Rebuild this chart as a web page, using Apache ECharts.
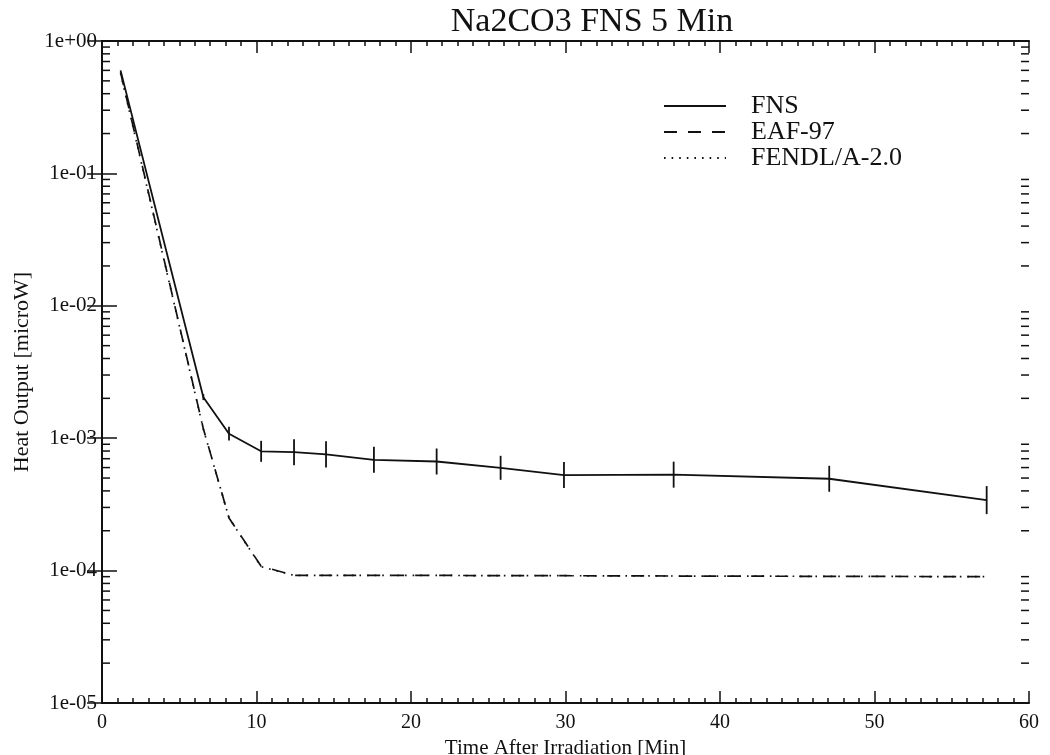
<!DOCTYPE html>
<html>
<head>
<meta charset="utf-8">
<script src="https://cdn.jsdelivr.net/npm/echarts@6/dist/echarts.min.js"></script>
<style>
  html, body { margin: 0; padding: 0; background: #fff; }
  #chart { width: 1050px; height: 755px; }
</style>
</head>
<body>
<div id="chart"></div>
<script>
// Decay heat after a 5 minute FNS irradiation of Na2CO3
const times = [1.2, 6.56, 8.22, 10.3, 12.43, 14.5, 17.6, 21.66, 25.8, 29.9, 37.0, 47.07, 57.26];

// Measured heat output (microW) with the lower / upper ends of its error bar
const fns = [0.6, 2.04e-3, 1.08e-3, 7.96e-4, 7.84e-4, 7.55e-4, 6.87e-4, 6.67e-4, 5.97e-4, 5.27e-4, 5.30e-4, 4.94e-4, 3.41e-4];
const fnsLow = [null, 1.94e-3, 9.6e-4, 6.63e-4, 6.25e-4, 6.02e-4, 5.48e-4, 5.32e-4, 4.85e-4, 4.20e-4, 4.23e-4, 3.94e-4, 2.67e-4];
const fnsHigh = [null, 2.15e-3, 1.22e-3, 9.55e-4, 9.83e-4, 9.47e-4, 8.62e-4, 8.36e-4, 7.36e-4, 6.61e-4, 6.65e-4, 6.19e-4, 4.35e-4];

// Calculated heat output with two nuclear data libraries
const eaf97 = [0.58, 1.18e-3, 2.5e-4, 1.08e-4, 9.2e-5, 9.2e-5, 9.2e-5, 9.2e-5, 9.15e-5, 9.15e-5, 9.1e-5, 9.05e-5, 9.0e-5];
const fendl = [0.57, 1.17e-3, 2.5e-4, 1.07e-4, 9.2e-5, 9.2e-5, 9.2e-5, 9.2e-5, 9.15e-5, 9.15e-5, 9.1e-5, 9.05e-5, 9.0e-5];

// Axis ranges and log minor tick positions
const xRange = [0, 60];
const xStep = 10;
const yRange = [1e-5, 1];
const yDecades = [1e-5, 1e-4, 1e-3, 1e-2, 1e-1];
const yMantissas = [2, 3, 4, 5, 6, 7, 8, 9];

const FONT = '"Liberation Serif", "Times New Roman", serif';

const pairs = (ys) => times.map((t, i) => [t, ys[i]]);
const errData = times.map((t, i) => [t, fnsLow[i], fnsHigh[i]]).filter(d => d[1] != null);
const minorY = [];
yDecades.forEach(d => yMantissas.forEach(m => minorY.push([xRange[0], d * m])));

function expLabel(v) {
  const e = Math.round(Math.log10(v));
  return '1e' + (e < 0 ? '-' : '+') + String(Math.abs(e)).padStart(2, '0');
}

const chart = echarts.init(document.getElementById('chart'), null, { renderer: 'canvas' });

const xCommon = {
  type: 'value', min: xRange[0], max: xRange[1], interval: xStep,
  axisLine: { show: true, lineStyle: { color: '#111', width: 2 } },
  axisTick: { show: true, inside: true, length: 12, lineStyle: { color: '#111', width: 1.5 } },
  minorTick: { show: true, splitNumber: 10, length: 5, lineStyle: { color: '#111', width: 1.5 } },
  splitLine: { show: false }
};
const yCommon = {
  type: 'log', logBase: 10, min: yRange[0], max: yRange[1],
  axisLine: { show: true, lineStyle: { color: '#111', width: 2 } },
  axisTick: { show: true, inside: true, length: 15, lineStyle: { color: '#111', width: 1.5 } },
  minorTick: { show: false },
  splitLine: { show: false }
};

const legendLine = { color: '#111', width: 1.7 };

chart.setOption({
  backgroundColor: '#fff',
  animation: false,
  title: {
    text: 'Na2CO3 FNS 5 Min',
    left: 587, top: 0, textAlign: 'center',
    textStyle: { fontFamily: FONT, fontSize: 34, fontWeight: 'normal', color: '#111' }
  },
  grid: { left: 102, right: 21, top: 41, bottom: 52, containLabel: false, outerBoundsMode: 'none' },
  legend: {
    orient: 'vertical', left: 658, top: 88,
    itemWidth: 62, itemHeight: 14, itemGap: 0,
    data: ['FNS', 'EAF-97', 'FENDL/A-2.0'],
    itemStyle: { color: 'rgba(0,0,0,0)', borderColor: 'rgba(0,0,0,0)', borderWidth: 0, opacity: 0 },
    textStyle: { fontFamily: FONT, fontSize: 26, color: '#111', padding: [0, 0, 0, 20] },
    selectedMode: false
  },
  xAxis: [
    Object.assign({}, xCommon, {
      position: 'bottom',
      name: 'Time After Irradiation [Min]', nameLocation: 'middle', nameGap: 27,
      nameTextStyle: { fontFamily: FONT, fontSize: 21, color: '#111' },
      axisLabel: { fontFamily: FONT, fontSize: 20, color: '#111', margin: 10 }
    }),
    Object.assign({}, xCommon, { position: 'top', axisLabel: { show: false } })
  ],
  yAxis: [
    Object.assign({}, yCommon, {
      position: 'left',
      name: 'Heat Output [microW]', nameLocation: 'middle', nameGap: 68,
      nameTextStyle: { fontFamily: FONT, fontSize: 22, color: '#111' },
      axisLabel: { fontFamily: FONT, fontSize: 21, color: '#111', margin: 5, formatter: expLabel }
    }),
    Object.assign({}, yCommon, { position: 'right', axisLabel: { show: false } })
  ],
  series: [
    {
      name: 'FNS', type: 'line', data: pairs(fns),
      symbol: 'none', showSymbol: false, z: 5,
      lineStyle: Object.assign({}, legendLine, { width: 1.8, type: 'solid' }),
      itemStyle: { color: '#111' }
    },
    {
      name: 'EAF-97', type: 'line', data: pairs(eaf97),
      symbol: 'none', showSymbol: false, z: 4,
      lineStyle: Object.assign({}, legendLine, { type: [13, 11] }),
      itemStyle: { color: '#111' }
    },
    {
      name: 'FENDL/A-2.0', type: 'line', data: pairs(fendl),
      symbol: 'none', showSymbol: false, z: 4,
      lineStyle: Object.assign({}, legendLine, { type: [1.6, 6] }),
      itemStyle: { color: '#111' }
    },
    {
      // vertical error bars on the FNS measurement
      name: 'FNS error', type: 'custom', data: errData, z: 6,
      renderItem: (params, api) => {
        const lo = api.coord([api.value(0), api.value(1)]);
        const hi = api.coord([api.value(0), api.value(2)]);
        return {
          type: 'line',
          shape: { x1: lo[0], y1: lo[1], x2: hi[0], y2: hi[1] },
          style: { stroke: '#111', lineWidth: 1.8 }
        };
      }
    },
    {
      // log minor ticks on the left and right frame
      name: 'minor ticks', type: 'custom', data: minorY, z: 3, silent: true, clip: false,
      renderItem: (params, api) => {
        const l = api.coord([xRange[0], api.value(1)]);
        const r = api.coord([xRange[1], api.value(1)]);
        return {
          type: 'group',
          children: [
            { type: 'line', shape: { x1: l[0], y1: l[1], x2: l[0] + 8, y2: l[1] }, style: { stroke: '#111', lineWidth: 1.5 } },
            { type: 'line', shape: { x1: r[0], y1: r[1], x2: r[0] - 8, y2: r[1] }, style: { stroke: '#111', lineWidth: 1.5 } }
          ]
        };
      }
    }
  ]
});
</script>
</body>
</html>
